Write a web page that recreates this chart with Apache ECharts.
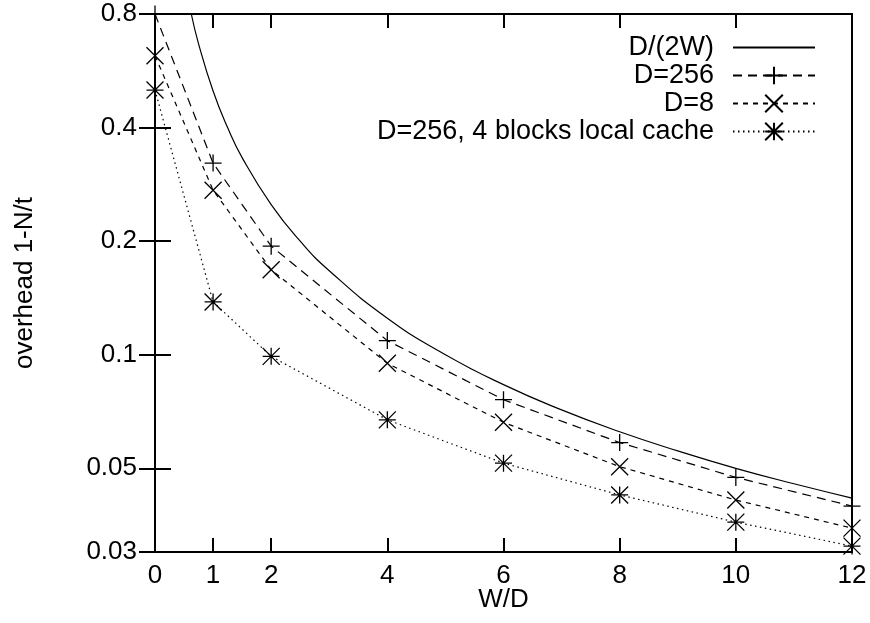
<!DOCTYPE html>
<html>
<head>
<meta charset="UTF-8">
<title>overhead vs W/D</title>
<script src="https://cdn.jsdelivr.net/npm/echarts@6.0.0/dist/echarts.min.js"></script>
<style>
  html, body { margin: 0; padding: 0; background: #fff; }
  #chart { width: 870px; height: 623px; }
</style>
</head>
<body>
<div id="chart"></div>
<script>
// tick positions
const xTicks = [0, 1, 2, 4, 6, 8, 10, 12];
const yTicks = [0.03, 0.05, 0.1, 0.2, 0.4, 0.8];

// D/(2W) reference curve
const refX = [0.625, 0.75, 1, 1.25, 1.5, 2, 2.5, 3, 4, 5, 6, 7, 8, 9, 10, 11, 12];
const refY = [0.8, 0.667, 0.5, 0.4, 0.333, 0.25, 0.2, 0.167, 0.125, 0.1, 0.0833, 0.0714, 0.0625, 0.0556, 0.05, 0.0455, 0.0417];

// measured points
const wd = [0, 1, 2, 4, 6, 8, 10, 12];
const d256 = [0.8, 0.322, 0.194, 0.109, 0.076, 0.0585, 0.0473, 0.0397];
const d8 = [0.62, 0.273, 0.168, 0.0949, 0.0662, 0.0505, 0.0412, 0.0347];
const d256cache = [0.503, 0.138, 0.099, 0.0672, 0.0516, 0.0425, 0.036, 0.0311];

const FONT = '"Liberation Sans", Arial, sans-serif';
const FS = 26;
const PLUS = 'path://M5,0 L5,10 M0,5 L10,5';
const CROSS = 'path://M0,0 L10,10 M10,0 L0,10';
const STAR = 'path://M5,0 L5,10 M0,5 L10,5 M0,0 L10,10 M10,0 L0,10';

function pairs(xs, ys) {
    return xs.map(function (x, i) { return [x, ys[i]]; });
}

function pointSeries(name, ys, symbol, dash) {
    return {
        name: name,
        type: 'line',
        data: pairs(wd, ys),
        symbol: symbol,
        symbolSize: 17,
        showSymbol: true,
        clip: false,
        lineStyle: { color: '#000', width: 1.2, type: dash },
        itemStyle: { color: '#000', borderColor: '#000', borderWidth: 1.3 }
    };
}

const chart = echarts.init(document.getElementById('chart'));

function ticks(len, vals) {
    return { show: true, inside: true, length: len, customValues: vals, lineStyle: { color: '#000', width: 2 } };
}

chart.setOption({
    animation: false,
    backgroundColor: '#fff',
    textStyle: { fontFamily: FONT },
    grid: {
        left: 155, right: 18, top: 14, bottom: 71,
        outerBoundsMode: 'none', containLabel: false,
        show: true, borderColor: '#000', borderWidth: 2
    },
    legend: {
        orient: 'vertical',
        right: 49,
        top: 29,
        align: 'right',
        itemWidth: 82,
        itemHeight: 22,
        itemGap: 1,
        textStyle: { fontFamily: FONT, fontSize: 27, color: '#000', padding: [0, 14, 0, 0] },
        data: ['D/(2W)', 'D=256', 'D=8', 'D=256, 4 blocks local cache']
    },
    xAxis: [{
        type: 'value',
        min: 0,
        max: 12,
        name: 'W/D',
        nameLocation: 'middle',
        nameGap: 35,
        nameMoveOverlap: false,
        nameTextStyle: { fontFamily: FONT, fontSize: FS, color: '#000' },
        axisLine: { show: true, lineStyle: { color: '#000', width: 2 } },
        axisTick: ticks(14, xTicks),
        axisLabel: { customValues: xTicks, fontFamily: FONT, fontSize: FS, color: '#000', margin: 11 },
        splitLine: { show: false }
    }, {
        type: 'value',
        position: 'top',
        min: 0,
        max: 12,
        axisLine: { show: false },
        axisTick: ticks(14, xTicks),
        axisLabel: { show: false, customValues: xTicks },
        splitLine: { show: false }
    }],
    yAxis: [{
        type: 'log',
        logBase: 10,
        min: 0.03,
        max: 0.8,
        name: 'overhead 1-N/t',
        nameLocation: 'middle',
        nameGap: 117,
        nameMoveOverlap: false,
        nameTextStyle: { fontFamily: FONT, fontSize: FS, color: '#000' },
        axisLine: { show: true, lineStyle: { color: '#000', width: 2 } },
        axisTick: ticks(16, yTicks),
        axisLabel: {
            customValues: yTicks,
            fontFamily: FONT, fontSize: FS, color: '#000', margin: 18,
            formatter: function (v) { return String(+v.toPrecision(3)); }
        },
        splitLine: { show: false }
    }, {
        type: 'log',
        logBase: 10,
        position: 'right',
        min: 0.03,
        max: 0.8,
        axisLine: { show: false },
        axisTick: ticks(16, yTicks),
        axisLabel: { show: false, customValues: yTicks },
        splitLine: { show: false }
    }],
    series: [
        {
            name: 'D/(2W)',
            type: 'line',
            data: pairs(refX, refY),
            smooth: true,
            showSymbol: false,
            symbol: 'none',
            lineStyle: { color: '#000', width: 1.2, type: 'solid' },
            itemStyle: { color: 'rgba(0,0,0,0)', borderWidth: 0 }
        },
        pointSeries('D=256', d256, PLUS, [9, 6]),
        pointSeries('D=8', d8, CROSS, [5, 5]),
        pointSeries('D=256, 4 blocks local cache', d256cache, STAR, [1.5, 3.5])
    ]
});
</script>
</body>
</html>
